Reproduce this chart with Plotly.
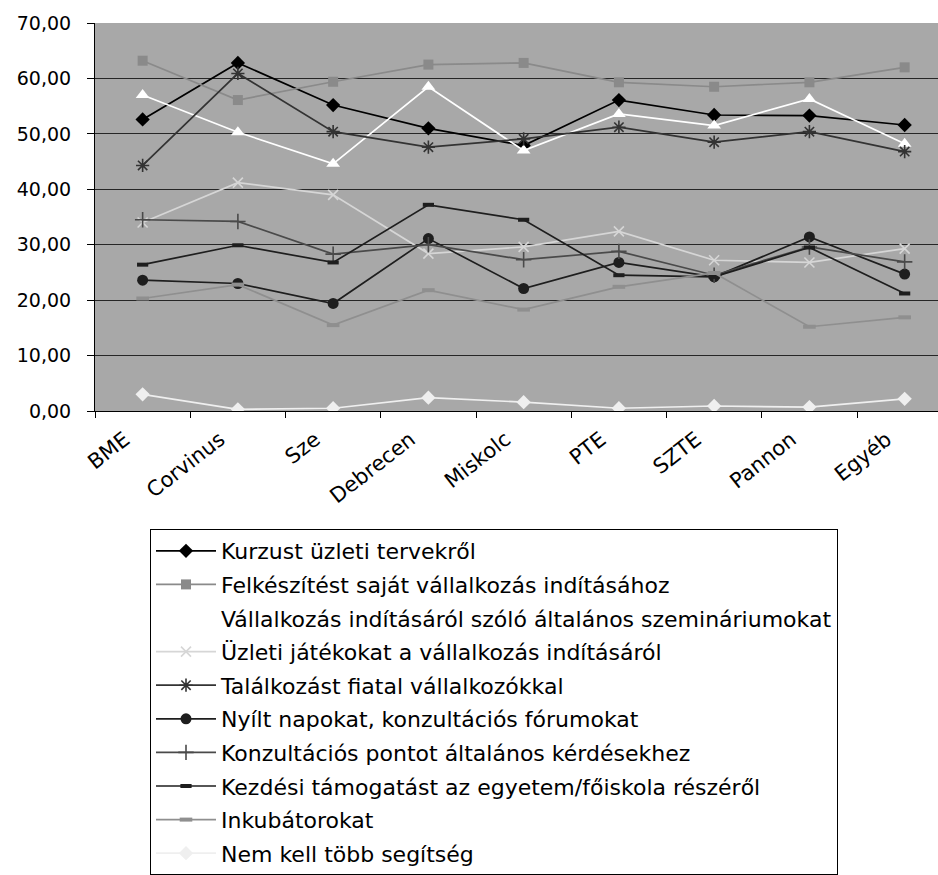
import plotly.graph_objects as go

# Universities / institution groups on the x axis
categories = ["BME", "Corvinus", "Sze", "Debrecen", "Miskolc",
              "PTE", "SZTE", "Pannon", "Egyéb"]

# Share of respondents (%) asking for each kind of support
kurzus = [52.6, 62.8, 55.2, 51.0, 47.9, 56.1, 53.4, 53.3, 51.6]
felkeszites = [63.2, 56.1, 59.4, 62.5, 62.8, 59.3, 58.5, 59.3, 62.0]
szeminarium = [57.0, 50.3, 44.6, 58.5, 47.0, 53.6, 51.5, 56.3, 48.2]
jatekok = [34.0, 41.2, 39.0, 28.4, 29.6, 32.4, 27.2, 26.8, 29.3]
talalkozas = [44.3, 60.9, 50.4, 47.6, 49.1, 51.2, 48.5, 50.4, 46.8]
nyilt_napok = [23.6, 23.0, 19.4, 31.1, 22.1, 26.8, 24.2, 31.4, 24.7]
konzultacios = [34.5, 34.2, 28.3, 30.0, 27.3, 28.8, 24.5, 29.6, 26.9]
kezdesi = [26.4, 29.9, 26.8, 37.2, 34.5, 24.5, 24.2, 29.5, 21.2]
inkubator = [20.3, 22.8, 15.5, 21.8, 18.3, 22.4, 24.9, 15.2, 16.9]
nem_kell = [3.0, 0.3, 0.5, 2.4, 1.6, 0.5, 0.9, 0.7, 2.2]

series_names = [
    "Kurzust üzleti tervekről",
    "Felkészítést saját vállalkozás indításához",
    "Vállalkozás indításáról szóló általános szemináriumokat",
    "Üzleti játékokat a vállalkozás indításáról",
    "Találkozást fiatal vállalkozókkal",
    "Nyílt napokat, konzultációs fórumokat",
    "Konzultációs pontot általános kérdésekhez",
    "Kezdési támogatást az egyetem/főiskola részéről",
    "Inkubátorokat",
    "Nem kell több segítség",
]
series_values = [kurzus, felkeszites, szeminarium, jatekok, talalkozas,
                 nyilt_napok, konzultacios, kezdesi, inkubator, nem_kell]

y_ticks = [0, 10, 20, 30, 40, 50, 60, 70]

# line colour, marker symbol, marker size, marker line width
styles = [
    ("#000000", "diamond", 11, 0),
    ("#8a8a8a", "square", 10, 0),
    ("#ffffff", "triangle-up", 12, 0),
    ("#d6d6d6", "x-thin", 10, 1.6),
    ("#333333", "asterisk", 11, 1.6),
    ("#1e1e1e", "circle", 11, 0),
    ("#4a4a4a", "cross-thin", 11, 1.6),
    ("#1e1e1e", "line-ew", 8, 4),
    ("#8f8f8f", "line-ew", 9, 4),
    ("#efefef", "diamond", 11, 0),
]

FONT = "DejaVu Sans"
PLOT_H = 875 - 23 - 463

fig = go.Figure()
for i, (name, vals) in enumerate(zip(series_names, series_values)):
    color, symbol, size, mlw = styles[i]
    fig.add_trace(go.Scatter(
        x=categories, y=vals, name=name, mode="lines+markers",
        legendgroup=f"g{i}",
        line=dict(color=color, width=1.7),
        marker=dict(symbol=symbol, size=size, color=color,
                    line=dict(color=color, width=mlw)),
    ))

fig.update_layout(
    width=938, height=875,
    margin=dict(l=95, r=0, t=23, b=463),
    paper_bgcolor="#ffffff",
    plot_bgcolor="#a8a8a8",
    separators=",.",
    font=dict(family=FONT, size=19, color="#000000"),
    showlegend=True,
    legend=dict(
        orientation="v",
        x=(150 - 95) / 843, xanchor="left",
        y=-(530 - 412) / PLOT_H, yanchor="top",
        bordercolor="#000000", borderwidth=1, bgcolor="#ffffff",
        font=dict(family=FONT, size=22, color="#000000"),
        itemwidth=60, tracegroupgap=2,
    ),
)

fig.update_xaxes(
    type="category", range=[-0.5, 8.35],
    showgrid=False, showline=True, linecolor="#000000", linewidth=1,
    ticks="outside", tickson="boundaries", ticklen=6, tickcolor="#000000",
    tickangle=-38, tickfont=dict(family=FONT, size=21),
    ticklabelstandoff=7, ticklabelshift=-18, automargin=False,
)
fig.update_yaxes(
    range=[0, 70], tickvals=y_ticks, tickformat=".2f",
    showgrid=True, gridcolor="#262626", gridwidth=1.3,
    showline=True, linecolor="#000000", linewidth=1,
    ticks="outside", ticklen=7, tickcolor="#000000",
    ticklabelstandoff=12, zeroline=False, automargin=False,
    tickfont=dict(family=FONT, size=19),
)

fig.write_html("out.html")
